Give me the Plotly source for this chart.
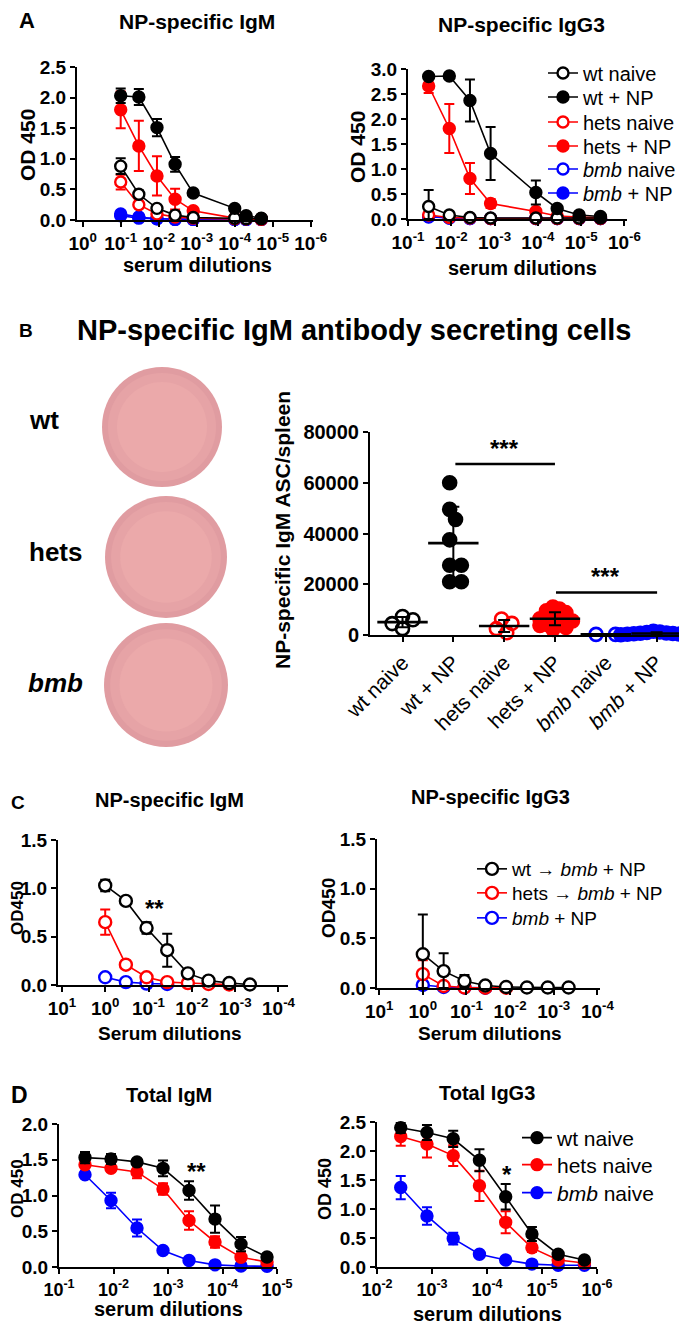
import numpy as np
import plotly.graph_objects as go

W, H = 687, 1329
OFF = 8                      # page body margin: the figure starts 8 px in
FW, FH = W - OFF, H - OFF    # figure size so it ends at the window edge
FONT = "Liberation Sans, Arial, Helvetica, sans-serif"
BLACK, RED, BLUE = "#000000", "#ff0000", "#0000ff"

# ---------------- panel A: NP-specific ELISA (reciprocal serum dilution)
a_igm_dil = [10, 30, 90, 270, 810, 10000, 20000, 50000]
a_igm_wt_naive = [0.88, 0.42, 0.19, 0.08, 0.04, 0.03, 0.02, 0.02]
a_igm_wt_naive_sd = [0.13, 0.06, 0.03, 0.02, 0.01, 0.01, 0.01, 0.01]
a_igm_wt_np = [2.03, 2.01, 1.51, 0.91, 0.44, 0.19, 0.07, 0.03]
a_igm_wt_np_sd = [0.12, 0.13, 0.14, 0.12, 0.03, 0.03, 0.02, 0.01]
a_igm_hets_naive = [0.62, 0.25, 0.10, 0.05, 0.03, 0.02, 0.02, 0.01]
a_igm_hets_naive_sd = [0.12, 0.04, 0.02, 0.01, 0.01, 0.01, 0.01, 0.01]
a_igm_hets_np = [1.80, 1.21, 0.72, 0.34, 0.15, 0.03, 0.02, 0.02]
a_igm_hets_np_sd = [0.30, 0.41, 0.32, 0.17, 0.03, 0.01, 0.01, 0.01]
a_igm_bmb_naive = [0.07, 0.03, 0.02, 0.01, 0.01, 0.01, 0.01, 0.01]
a_igm_bmb_np = [0.10, 0.05, 0.02, 0.01, 0.01, 0.01, 0.01, 0.01]

a_igg3_dil = [30, 90, 270, 810, 9000, 28000, 90000, 280000]
a_igg3_wt_naive = [0.25, 0.08, 0.03, 0.02, 0.02, 0.02, 0.02, 0.02]
a_igg3_wt_naive_sd = [0.33, 0.03, 0.01, 0.01, 0.01, 0.01, 0.01, 0.01]
a_igg3_wt_np = [2.85, 2.86, 2.37, 1.31, 0.53, 0.21, 0.08, 0.05]
a_igg3_wt_np_sd = [0.05, 0.04, 0.42, 0.53, 0.24, 0.04, 0.02, 0.02]
a_igg3_hets_naive = [0.08, 0.03, 0.02, 0.01, 0.01, 0.01, 0.01, 0.01]
a_igg3_hets_naive_sd = [0.02, 0.01, 0.01, 0.01, 0.01, 0.01, 0.01, 0.01]
a_igg3_hets_np = [2.66, 1.81, 0.81, 0.31, 0.15, 0.06, 0.04, 0.03]
a_igg3_hets_np_sd = [0.14, 0.49, 0.31, 0.09, 0.03, 0.02, 0.01, 0.01]
a_igg3_bmb_naive = [0.04, 0.02, 0.01, 0.01, 0.01, 0.01, 0.01, 0.01]
a_igg3_bmb_np = [0.05, 0.02, 0.01, 0.01, 0.01, 0.01, 0.01, 0.01]

# ---------------- panel B: ASC per spleen
b_groups = ["wt naive", "wt + NP", "hets naive", "hets + NP",
            "<i>bmb</i> naive", "<i>bmb</i> + NP"]
b_wt_naive = [7300, 6000, 4500, 2500]
b_wt_np = [60000, 49500, 45500, 37500, 27500, 27500, 21000, 21000]
b_hets_naive = [6300, 4600, 2500, 900]
b_hets_np = [11000, 10200, 9500, 8800, 8000, 7400, 6800, 6400,
             6000, 5500, 5000, 4600, 4200, 3800, 3000, 2200]
b_bmb_naive = [250, 250]
b_bmb_np = [1500, 1200, 1000, 800, 700, 600, 500, 400, 300, 200, 100, 0]

# ---------------- panel C: chimeras + NP
c_dil = [1, 3, 9, 27, 81, 243, 729, 2187]
c_igm_wt = [1.03, 0.87, 0.59, 0.36, 0.12, 0.045, 0.02, 0.005]
c_igm_wt_sd = [0.06, 0.02, 0.06, 0.17, 0.02, 0.01, 0.01, 0.005]
c_igm_hets = [0.65, 0.21, 0.08, 0.03, 0.02, 0.01, 0.005]
c_igm_hets_sd = [0.13, 0.04, 0.02, 0.01, 0.01, 0.01, 0.005]
c_igm_bmb = [0.08, 0.03, 0.015, 0.01]
c_igg3_wt = [0.34, 0.17, 0.07, 0.025, 0.01, 0.005, 0.005, 0.005]
c_igg3_wt_sd = [0.40, 0.18, 0.06, 0.01, 0.005, 0.005, 0.005, 0.005]
c_igg3_hets = [0.14, 0.02, 0.005, 0.003, 0.003]
c_igg3_hets_sd = [0.14, 0.01, 0.005, 0.003, 0.003]
c_igg3_bmb = [0.03, 0.01, 0.005, 0.003]

# ---------------- panel D: total Ig, naive mice
d_igm_dil = [30, 90, 270, 810, 2430, 7290, 21870, 65610]
d_igm_wt = [1.53, 1.51, 1.47, 1.38, 1.07, 0.67, 0.32, 0.14]
d_igm_wt_sd = [0.08, 0.07, 0.03, 0.11, 0.13, 0.19, 0.10, 0.03]
d_igm_hets = [1.43, 1.38, 1.33, 1.09, 0.65, 0.35, 0.135, 0.07]
d_igm_hets_sd = [0.04, 0.04, 0.09, 0.08, 0.13, 0.08, 0.05, 0.02]
d_igm_bmb = [1.29, 0.93, 0.545, 0.23, 0.09, 0.03, 0.015, 0.01]
d_igm_bmb_sd = [0.03, 0.11, 0.12, 0.02, 0.02, 0.01, 0.01, 0.01]
d_igg3_dil = [270, 810, 2430, 7290, 21870, 65610, 196830, 590490]
d_igg3_wt = [2.40, 2.32, 2.21, 1.84, 1.21, 0.57, 0.22, 0.12]
d_igg3_wt_sd = [0.09, 0.13, 0.14, 0.19, 0.22, 0.12, 0.03, 0.02]
d_igg3_hets = [2.25, 2.12, 1.92, 1.40, 0.77, 0.33, 0.12, 0.07]
d_igg3_hets_sd = [0.16, 0.23, 0.18, 0.26, 0.19, 0.07, 0.04, 0.02]
d_igg3_bmb = [1.37, 0.88, 0.49, 0.22, 0.12, 0.05, 0.03, 0.03]
d_igg3_bmb_sd = [0.20, 0.15, 0.10, 0.02, 0.02, 0.01, 0.01, 0.01]


def px(x):
    return (x - OFF) / FW


def py(y):
    return 1 - (y - OFF) / FH


fig = go.Figure()
legends = {}


def legend_row(x, y, size):
    # one legend box per row so the row spacing can follow the original
    key = "legend" if not legends else "legend%d" % (len(legends) + 1)
    legends[key] = dict(x=px(x), y=py(y), xanchor="left", yanchor="middle", itemwidth=30,
                        font=dict(family=FONT, size=size, color="black"),
                        bgcolor="rgba(0,0,0,0)", borderwidth=0)
    return key


def curve(ax, dil, vals, sd, color, filled, name, size=11, leg=None):
    x = [1.0 / d for d in dil[:len(vals)]]
    err = None
    if sd is not None:
        err = dict(type="data", array=sd, arrayminus=[min(s, v) for s, v in zip(sd, vals)],
                   color=color, thickness=2, width=5)
    key = legend_row(*leg) if leg else None
    fig.add_trace(go.Scatter(
        x=x, y=vals, error_y=err, mode="lines+markers", name=name,
        xaxis="x" + ax, yaxis="y" + ax, cliponaxis=False,
        line=dict(color=color, width=1.6),
        marker=dict(symbol="circle", size=size, color=color if filled else "white",
                    line=dict(color=color, width=2.4)),
        showlegend=key is not None, legend=key or "legend"))


# legend rows: (left x of legend box, row centre y, font size)
LA, LC, LD = 543, 472, 517
# A left
curve("", a_igm_dil, a_igm_bmb_naive, None, BLUE, False, "bmb naive")
curve("", a_igm_dil, a_igm_bmb_np, None, BLUE, True, "bmb + NP")
curve("", a_igm_dil, a_igm_hets_naive, a_igm_hets_naive_sd, RED, False, "hets naive")
curve("", a_igm_dil, a_igm_hets_np, a_igm_hets_np_sd, RED, True, "hets + NP")
curve("", a_igm_dil, a_igm_wt_naive, a_igm_wt_naive_sd, BLACK, False, "wt naive")
curve("", a_igm_dil, a_igm_wt_np, a_igm_wt_np_sd, BLACK, True, "wt + NP")
# A right (carries legend)
curve("2", a_igg3_dil, a_igg3_bmb_naive, None, BLUE, False, "<i>bmb</i> naive", leg=(LA, 169, 20))
curve("2", a_igg3_dil, a_igg3_bmb_np, None, BLUE, True, "<i>bmb</i> + NP", leg=(LA, 193, 20))
curve("2", a_igg3_dil, a_igg3_hets_naive, a_igg3_hets_naive_sd, RED, False, "hets naive", leg=(LA, 122, 20))
curve("2", a_igg3_dil, a_igg3_hets_np, a_igg3_hets_np_sd, RED, True, "hets + NP", leg=(LA, 146, 20))
curve("2", a_igg3_dil, a_igg3_wt_naive, a_igg3_wt_naive_sd, BLACK, False, "wt naive", leg=(LA, 73, 20))
curve("2", a_igg3_dil, a_igg3_wt_np, a_igg3_wt_np_sd, BLACK, True, "wt + NP", leg=(LA, 97, 20))

# C
curve("4", c_dil, c_igm_bmb, None, BLUE, False, "bmb + NP", size=12)
curve("4", c_dil, c_igm_hets, c_igm_hets_sd, RED, False, "hets", size=12)
curve("4", c_dil, c_igm_wt, c_igm_wt_sd, BLACK, False, "wt", size=12)
curve("5", c_dil, c_igg3_bmb, None, BLUE, False, "<i>bmb</i> + NP", size=12, leg=(LC, 918, 19))
curve("5", c_dil, c_igg3_hets, c_igg3_hets_sd, RED, False, "hets \u2192 <i>bmb</i> + NP", size=12,
      leg=(LC, 893, 19))
curve("5", c_dil, c_igg3_wt, c_igg3_wt_sd, BLACK, False, "wt \u2192 <i>bmb</i> + NP", size=12,
      leg=(LC, 869, 19))

# D
curve("6", d_igm_dil, d_igm_bmb, d_igm_bmb_sd, BLUE, True, "bmb")
curve("6", d_igm_dil, d_igm_hets, d_igm_hets_sd, RED, True, "hets")
curve("6", d_igm_dil, d_igm_wt, d_igm_wt_sd, BLACK, True, "wt")
curve("7", d_igg3_dil, d_igg3_bmb, d_igg3_bmb_sd, BLUE, True, "<i>bmb</i> naive", leg=(LD, 1193, 21))
curve("7", d_igg3_dil, d_igg3_hets, d_igg3_hets_sd, RED, True, "hets naive", leg=(LD, 1165, 21))
curve("7", d_igg3_dil, d_igg3_wt, d_igg3_wt_sd, BLACK, True, "wt naive", leg=(LD, 1138, 21))

# ---------------- B scatter
B_X0, B_X1, B_YTOP, B_YBOT = 370, 682, 432, 635
B_XR = [-0.64, 5.5]
cat_px = (B_X1 - B_X0) / (B_XR[1] - B_XR[0])
val_px = (B_YBOT - B_YTOP) / 80000.0
DOT = 13


def swarm(vals, gap):
    # simple beeswarm in pixel space, returns offsets in category units
    placed, offs = [], []
    step = DOT * gap * 0.5
    for v in vals:
        y = v * val_px
        k = 0
        while True:
            cands = [0.0] if k == 0 else [k * step, -k * step]
            ok = None
            for c in cands:
                if all((c - px_) ** 2 + (y - py_) ** 2 >= (DOT * gap) ** 2 for px_, py_ in placed):
                    ok = c
                    break
            if ok is not None:
                placed.append((ok, y))
                offs.append(ok)
                break
            k += 1
    offs = np.array(offs)
    offs -= offs.mean()
    return offs / cat_px


b_sets = [(b_wt_naive, BLACK, False, 0.8), (b_wt_np, BLACK, True, 0.9),
          (b_hets_naive, RED, False, 0.8), (b_hets_np, RED, True, 0.5),
          (b_bmb_naive, BLUE, False, 1.5), (b_bmb_np, BLUE, True, 0.5)]
means, sds = [], []
for i, (vals, col, filled, gap) in enumerate(b_sets):
    offs = swarm(vals, gap)
    fig.add_trace(go.Scatter(
        x=i + offs, y=vals, mode="markers", xaxis="x3", yaxis="y3", cliponaxis=False,
        showlegend=False,
        marker=dict(size=DOT, color=col if filled else "rgba(255,255,255,0)",
                    line=dict(color=col, width=2.6))))
    means.append(float(np.mean(vals)))
    sds.append(float(np.std(vals, ddof=1)))

fig.add_trace(go.Scatter(
    x=list(range(6)), y=means, mode="markers", xaxis="x3", yaxis="y3", cliponaxis=False,
    showlegend=False,
    error_y=dict(type="data", array=sds, color=BLACK, thickness=2, width=6),
    marker=dict(symbol="line-ew", size=36, line=dict(color=BLACK, width=2.6))))

# ---------------- axes
common = dict(showline=True, linecolor="black", linewidth=2, ticks="outside", ticklen=5,
              tickwidth=2, tickcolor="black", showgrid=False, zeroline=False,
              automargin=False,
              tickfont=dict(family=FONT, size=19, color="black", weight="bold"))


def logx(l, r, rng, exps, anchor, fs=19):
    return dict(common, domain=[px(l), px(r)], type="log", range=rng, anchor=anchor,
                tickangle=0, tickvals=[10.0 ** e for e in exps],
                ticktext=["10<sup>%d</sup>" % e for e in exps],
                tickfont=dict(family=FONT, size=fs, color="black", weight="bold"))


def liny(top, bot, rng, dtick, anchor):
    return dict(common, domain=[py(bot), py(top)], range=rng, dtick=dtick,
                tickformat=".1f", anchor=anchor)


layout = dict(
    width=FW, height=FH, margin=dict(l=0, r=0, t=0, b=0, pad=0, autoexpand=False),
    template="none",
    paper_bgcolor="white", plot_bgcolor="rgba(0,0,0,0)",
    font=dict(family=FONT, color="black"),
    xaxis=logx(77, 313, [0.15, -6.06], range(0, -7, -1), "y"),
    yaxis=liny(67, 220, [0, 2.5], 0.5, "x"),
    xaxis2=logx(408, 627, [-1, -6.06], range(-1, -7, -1), "y2"),
    yaxis2=liny(69, 219, [0, 3.0], 0.5, "x2"),
    xaxis3=dict(common, domain=[px(B_X0), px(B_X1)], range=B_XR, anchor="y3",
                tickvals=list(range(6)), ticktext=b_groups, tickangle=-45,
                tickfont=dict(family=FONT, size=21, color="black")),
    yaxis3=dict(common, domain=[py(B_YBOT), py(B_YTOP)], range=[0, 80000], dtick=20000,
                tickformat="d", anchor="x3",
                tickfont=dict(family=FONT, size=20, color="black", weight="bold")),
    xaxis4=logx(58, 288, [1.09, -4.22], range(1, -5, -1), "y4"),
    yaxis4=liny(840, 985, [0, 1.5], 0.5, "x4"),
    xaxis5=logx(377, 600, [1.05, -4.06], range(1, -5, -1), "y5"),
    yaxis5=liny(839, 988, [0, 1.5], 0.5, "x5"),
    xaxis6=logx(59, 277, [-1, -5], range(-1, -6, -1), "y6", fs=18),
    yaxis6=liny(1124, 1267, [0, 2.0], 0.5, "x6"),
    xaxis7=logx(377, 597, [-2, -6], range(-2, -7, -1), "y7", fs=18),
    yaxis7=liny(1122, 1267, [0, 2.5], 0.5, "x7"),
    showlegend=True,
)
layout.update(legends)
fig.update_layout(**layout)


# ---------------- texts
def note(text, x, y, size, bold=True, angle=0, anchor="center", italic=False):
    fig.add_annotation(text=text, x=px(x), y=py(y), xref="paper", yref="paper",
                       showarrow=False, textangle=angle, xanchor=anchor, yanchor="middle",
                       font=dict(family=FONT, size=size, color="black",
                                 weight="bold" if bold else "normal",
                                 style="italic" if italic else "normal"))


note("A", 27, 21, 22)
note("NP-specific IgM", 197, 22, 21)
note("NP-specific IgG3", 521, 24, 21)
note("OD 450", 28, 145, 21, angle=-90)
note("OD 450", 357, 147, 21, angle=-90)
note("serum dilutions", 197, 265, 20)
note("serum dilutions", 522, 268, 20)

note("B", 26, 330, 19)
note("NP-specific IgM antibody secreting cells", 354, 330, 29)
note("wt", 27, 420, 26, anchor="left")
note("hets", 27, 552, 26, anchor="left")
note("bmb", 26, 683, 26, anchor="left", italic=True)
note("NP-specific IgM ASC/spleen", 282, 530, 21, angle=-90)

note("C", 18, 802, 19)
note("NP-specific IgM", 169, 800, 20)
note("NP-specific IgG3", 490, 797, 20)
note("OD450", 17, 908, 17, angle=-90)
note("OD450", 328, 908, 19, angle=-90)
note("Serum dilutions", 170, 1033, 19)
note("Serum dilutions", 490, 1033, 19)

note("D", 19, 1095, 23)
note("Total IgM", 169, 1095, 20)
note("Total IgG3", 487, 1093, 20)
note("OD 450", 17, 1189, 17, angle=-90)
note("OD 450", 325, 1189, 18, angle=-90)
note("serum dilutions", 168, 1309, 20)
note("serum dilutions", 487, 1314, 20)

# significance marks
for xa, ya, x, y, t in [("x3", "y3", 2.0, 73500, "***"), ("x3", "y3", 4.0, 23000, "***"),
                        ("x4", "y4", -1.13, 0.79, "**"), ("x6", "y6", -3.53, 1.34, "**"),
                        ("x7", "y7", -4.36, 1.60, "*")]:
    fig.add_annotation(text=t, x=x, y=y, xref=xa, yref=ya, showarrow=False,
                       font=dict(family=FONT, size=24, color="black", weight="bold"))
fig.add_shape(type="line", xref="x3", yref="y3", x0=1.04, x1=3.0, y0=67400, y1=67400,
              line=dict(color="black", width=2.5))
fig.add_shape(type="line", xref="x3", yref="y3", x0=3.02, x1=5.01, y0=16700, y1=16700,
              line=dict(color="black", width=2.5))

# ELISpot wells (photographs in the original, drawn as plain discs)
for cx, cy, r in [(162, 427, 60), (166, 557, 61), (166, 685, 62)]:
    for k, col in [(1.0, "#e09ca1"), (0.9, "#e6a3a6"), (0.75, "#eba9aa")]:
        fig.add_shape(type="circle", xref="paper", yref="paper", layer="below",
                      x0=px(cx - r * k), x1=px(cx + r * k), y0=py(cy + r * k),
                      y1=py(cy - r * k), fillcolor=col, line=dict(width=0))

fig.write_html("out.html")
